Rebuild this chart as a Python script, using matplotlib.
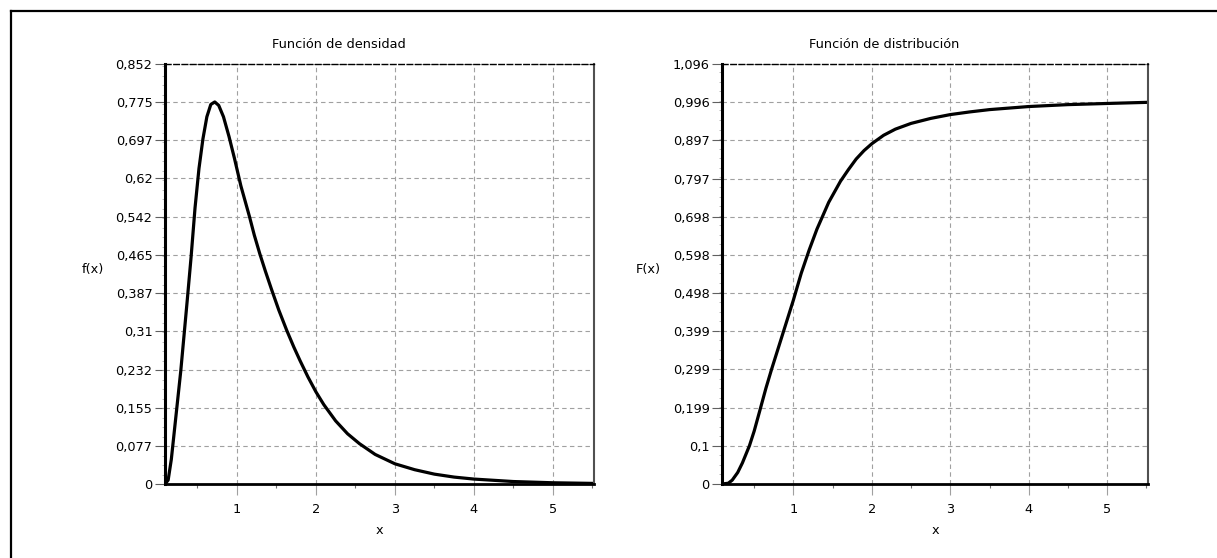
import matplotlib
matplotlib.use("Agg")
from matplotlib import pyplot as plt
from matplotlib.lines import Line2D
from matplotlib.ticker import MultipleLocator, AutoMinorLocator

# densidad
x_den = [0.09, 0.13, 0.17, 0.21, 0.25, 0.29, 0.33, 0.37, 0.42, 0.47, 0.52, 0.57, 0.62, 0.67,
         0.72, 0.77, 0.83, 0.9, 0.97, 1.05, 1.16, 1.22, 1.29, 1.36, 1.44, 1.53, 1.63, 1.72,
         1.8, 1.9, 2.0, 2.1, 2.25, 2.4, 2.55, 2.75, 3.0, 3.25, 3.5, 3.75, 4.0, 4.5, 5.0, 5.52]
f_den = [0.0, 0.008, 0.05, 0.11, 0.17, 0.23, 0.30, 0.37, 0.46, 0.56, 0.64, 0.70, 0.745, 0.77,
         0.775, 0.768, 0.745, 0.705, 0.66, 0.605, 0.542, 0.505, 0.467, 0.432, 0.394, 0.353, 0.312, 0.278,
         0.25, 0.217, 0.187, 0.161, 0.128, 0.102, 0.082, 0.06, 0.041, 0.029, 0.02, 0.014, 0.01, 0.005,
         0.0025, 0.0012]

# distribución
x_dist = [0.09, 0.17, 0.22, 0.29, 0.35, 0.44, 0.5, 0.57, 0.65, 0.72, 0.8, 0.9, 1.0, 1.1, 1.2,
          1.3, 1.45, 1.6, 1.7, 1.8, 1.9, 2.0, 2.15, 2.3, 2.5, 2.75, 3.0, 3.25, 3.5, 4.0, 4.5,
          5.0, 5.52]
F_dist = [0.0, 0.002, 0.01, 0.03, 0.055, 0.10, 0.138, 0.19, 0.25, 0.298, 0.35, 0.415, 0.48, 0.55,
          0.61, 0.665, 0.735, 0.79, 0.82, 0.848, 0.87, 0.888, 0.91, 0.926, 0.941, 0.954, 0.964,
          0.971, 0.977, 0.985, 0.99, 0.993, 0.996]

den_ticks = [0, 0.077, 0.155, 0.232, 0.31, 0.387, 0.465, 0.542, 0.62, 0.697, 0.775, 0.852]
den_labels = ["0", "0,077", "0,155", "0,232", "0,31", "0,387", "0,465", "0,542", "0,62",
              "0,697", "0,775", "0,852"]
dist_ticks = [0, 0.1, 0.199, 0.299, 0.399, 0.498, 0.598, 0.698, 0.797, 0.897, 0.996, 1.096]
dist_labels = ["0", "0,1", "0,199", "0,299", "0,399", "0,498", "0,598", "0,698", "0,797",
               "0,897", "0,996", "1,096"]
x_ticks = [1, 2, 3, 4, 5]

plt.rcParams['font.family'] = ['DejaVu Sans']
plt.rcParams['font.size'] = 9.3

W, H = 1217, 558
fig = plt.figure(figsize=(W / 100, H / 100), dpi=100)

# borde superior e izquierdo
fig.add_artist(Line2D([11 / W, 1], [1 - 11 / H, 1 - 11 / H], color='black', lw=1.6))
fig.add_artist(Line2D([11 / W, 11 / W], [0, 1 - 11 / H], color='black', lw=1.6))

ax1 = fig.add_axes([165 / W, 74 / H, 429 / W, 420 / H])
ax2 = fig.add_axes([722 / W, 74 / H, 426 / W, 420 / H])


def style(ax, xs, ys, yticks, ylabels, ylab, title, title_x):
    ax.plot(xs, ys, color='black', lw=2.3)
    ax.set_xlim(0.09, 5.52)
    ax.set_ylim(0, yticks[-1])
    ax.set_yticks(yticks)
    ax.set_yticklabels(ylabels)
    ax.set_xticks(x_ticks)
    ax.xaxis.set_minor_locator(MultipleLocator(0.5))
    ax.yaxis.set_minor_locator(AutoMinorLocator(4))
    ax.grid(True, which='major', color='#a0a0a0', linestyle=(0, (4, 3)), linewidth=0.8)
    ax.tick_params(axis='y', which='major', length=7, color='#606060', pad=2)
    ax.tick_params(axis='y', which='minor', length=2, width=0.6, color='#b0b0b0')
    ax.tick_params(axis='x', which='major', length=8, color='#a0a0a0', pad=6)
    ax.tick_params(axis='x', which='minor', length=3, width=0.8, color='#707070')
    ax.spines['left'].set_linewidth(2.2)
    ax.spines['bottom'].set_linewidth(2.0)
    ax.spines['top'].set_linestyle((0, (4, 2)))
    ax.spines['top'].set_linewidth(1.0)
    ax.spines['right'].set_color('#505050')
    ax.spines['right'].set_linewidth(1.5)
    ax.set_xlabel('x')
    ax.xaxis.set_label_coords(0.5, -0.095)
    ax.set_ylabel(ylab, rotation=0, va='center', ha='center')
    fig.text(title_x / W, 1 - 44 / H, title, ha='center', va='center')


style(ax1, x_den, f_den, den_ticks, den_labels, 'f(x)', 'Función de densidad', 339)
ax1.yaxis.set_label_coords((93 - 165) / 429, (484 - 270) / 420)
style(ax2, x_dist, F_dist, dist_ticks, dist_labels, 'F(x)', 'Función de distribución', 884)
ax2.yaxis.set_label_coords((648 - 722) / 426, (484 - 270) / 420)

fig.savefig('out.png', dpi=100)
